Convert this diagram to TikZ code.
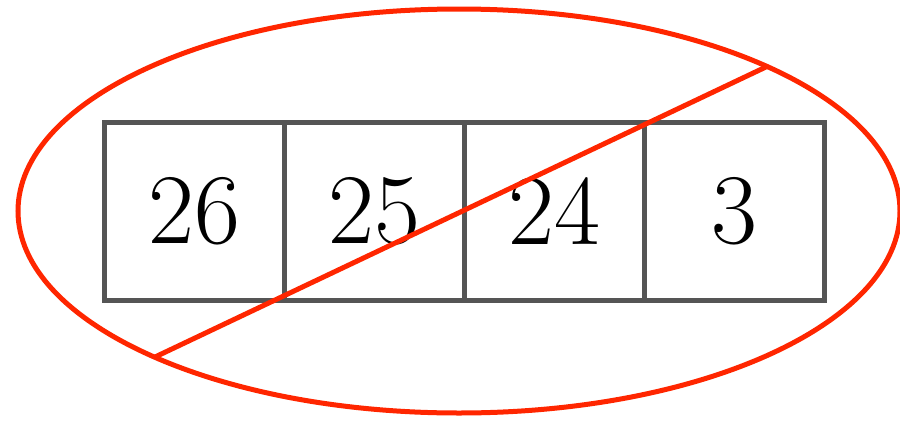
\documentclass[tikz,border=0pt]{standalone}
\definecolor{boxgray}{RGB}{85,85,85}
\definecolor{crossred}{RGB}{255,38,0}
\begin{document}
\begin{tikzpicture}[x=1pt,y=1pt,
  cell/.style={draw=boxgray,line width=5pt,minimum width=180pt,minimum height=178pt,inner sep=0pt,outer sep=0pt,font=\fontsize{100}{100}\selectfont},
  redline/.style={draw=crossred,line width=5pt}]
\useasboundingbox (0,0) rectangle (900,-421);
\node[cell] (b1) at (194,-211) {26};
\node[cell] (b2) at (374,-211) {25};
\node[cell] (b3) at (554,-211) {24};
\node[cell] (b4) at (734.5,-211) {3};
\draw[redline] (459,-211) ellipse [x radius=441, y radius=202];
\coordinate (p1) at (155,-357);
\coordinate (p2) at (768,-66);
\draw[redline] (p1) -- (p2);
\end{tikzpicture}
\end{document}
